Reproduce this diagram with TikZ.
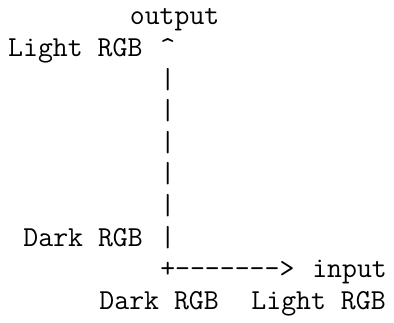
\documentclass[tikz,border=0pt]{standalone}
\begin{document}
\begin{tikzpicture}[x=5.775pt,y=-12pt,
    ascii/.style={font=\fontsize{11}{12}\selectfont\ttfamily,inner sep=0pt,anchor=base west}]
    % Fix the margins
    \useasboundingbox (-0.507,-0.79) rectangle (25.41,9.41);

    % Vertical axis (output)
    \node[ascii] (output) at (8,0) {output};
    \node[ascii] (lightY) at (0,1) {Light RGB};
    \node[ascii] (tip) at (10,1) {\textasciicircum};
    \foreach \r in {2,...,7}
        \node[ascii] (bar\r) at (10,\r) {|};
    \node[ascii] (darkY) at (1,7) {Dark RGB};

    % Horizontal axis (input)
    \node[ascii] (axis) at (10,8) {+-\kern0pt-\kern0pt-\kern0pt-\kern0pt-\kern0pt-\kern0pt->};
    \node[ascii] (input) at (20,8) {input};
    \node[ascii] (darkX) at (6,9) {Dark RGB};
    \node[ascii] (lightX) at (16,9) {Light RGB};
\end{tikzpicture}
\end{document}
